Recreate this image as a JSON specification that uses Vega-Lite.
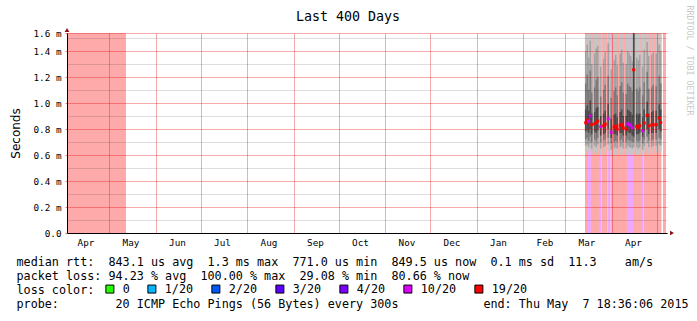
{
  "$schema": "https://vega.github.io/schema/vega-lite/v6.json",
  "width": 600,
  "height": 200,
  "autosize": {"type": "none"},
  "padding": {"left": 67, "top": 33, "right": 30, "bottom": 88},
  "background": "white",
  "title": {"text": "Last 400 Days", "font": "DejaVu Sans Mono", "fontSize": 13.3, "fontWeight": "normal", "color": "#000", "anchor": "middle", "frame": "group", "dx": -19, "dy": 18, "offset": 0},
  "config": {"view": {"stroke": null}, "axis": {"domainWidth": 1}},
  "datasets": {
    "bg": [
      {"s": "2014-04-02T16:36:00Z", "e": "2014-05-12T00:00:00Z", "bg": "19/20"},
      {"s": "2015-03-14", "e": "2015-03-16", "bg": "19/20"},
      {"s": "2015-03-16", "e": "2015-03-18", "bg": "10/20"},
      {"s": "2015-03-18", "e": "2015-03-24", "bg": "19/20"},
      {"s": "2015-03-24", "e": "2015-03-25", "bg": "10/20"},
      {"s": "2015-03-25", "e": "2015-03-29", "bg": "19/20"},
      {"s": "2015-03-29", "e": "2015-03-30", "bg": "10/20"},
      {"s": "2015-03-30", "e": "2015-03-31", "bg": "19/20"},
      {"s": "2015-03-31", "e": "2015-04-01", "bg": "10/20"},
      {"s": "2015-04-01", "e": "2015-04-11", "bg": "19/20"},
      {"s": "2015-04-11", "e": "2015-04-15", "bg": "10/20"},
      {"s": "2015-04-15", "e": "2015-04-21", "bg": "19/20"},
      {"s": "2015-04-21", "e": "2015-04-22", "bg": "10/20"},
      {"s": "2015-04-22", "e": "2015-05-04", "bg": "19/20"},
      {"s": "2015-05-05", "e": "2015-05-07", "bg": "19/20"}
    ],
    "smoke": [
      {"d": "2015-03-14", "d2": "2015-03-15", "lo": 0.62, "a": 0.67, "b": 0.72, "c": 0.78, "e": 0.95, "f": 1.15, "g": 1.40, "hi": 1.6, "m": 0.848, "mc": "19/20"},
      {"d": "2015-03-15", "d2": "2015-03-16", "lo": 0.63, "a": 0.68, "b": 0.73, "c": 0.79, "e": 0.98, "f": 1.22, "g": 1.45, "hi": 1.6, "m": 0.870, "mc": "19/20"},
      {"d": "2015-03-16", "d2": "2015-03-17", "lo": 0.61, "a": 0.66, "b": 0.71, "c": 0.77, "e": 0.94, "f": 1.10, "g": 1.35, "hi": 1.6, "m": 0.860, "mc": "10/20"},
      {"d": "2015-03-17", "d2": "2015-03-18", "lo": 0.64, "a": 0.69, "b": 0.74, "c": 0.80, "e": 1.02, "f": 1.25, "g": 1.48, "hi": 1.6, "m": 0.900, "mc": "10/20"},
      {"d": "2015-03-18", "d2": "2015-03-19", "lo": 0.60, "a": 0.65, "b": 0.70, "c": 0.76, "e": 0.92, "f": 1.08, "g": 1.30, "hi": 1.6, "m": 0.833, "mc": "19/20"},
      {"d": "2015-03-20", "d2": "2015-03-21", "lo": 0.62, "a": 0.67, "b": 0.72, "c": 0.78, "e": 0.93, "f": 1.12, "g": 1.38, "hi": 1.6, "m": 0.840, "mc": "19/20"},
      {"d": "2015-03-21", "d2": "2015-03-22", "lo": 0.61, "a": 0.66, "b": 0.71, "c": 0.77, "e": 0.96, "f": 1.18, "g": 1.42, "hi": 1.6, "m": 0.848, "mc": "19/20"},
      {"d": "2015-03-22", "d2": "2015-03-23", "lo": 0.63, "a": 0.68, "b": 0.73, "c": 0.79, "e": 0.97, "f": 1.20, "g": 1.44, "hi": 1.6, "m": 0.862, "mc": "19/20"},
      {"d": "2015-03-24", "d2": "2015-03-25", "lo": 0.60, "a": 0.65, "b": 0.70, "c": 0.75, "e": 0.90, "f": 1.05, "g": 1.28, "hi": 1.6, "m": 0.818, "mc": "10/20"},
      {"d": "2015-03-26", "d2": "2015-03-27", "lo": 0.61, "a": 0.66, "b": 0.71, "c": 0.76, "e": 0.92, "f": 1.10, "g": 1.34, "hi": 1.6, "m": 0.825, "mc": "19/20"},
      {"d": "2015-03-27", "d2": "2015-03-28", "lo": 0.62, "a": 0.67, "b": 0.72, "c": 0.77, "e": 0.94, "f": 1.14, "g": 1.39, "hi": 1.6, "m": 0.838, "mc": "19/20"},
      {"d": "2015-03-29", "d2": "2015-03-30", "lo": 0.63, "a": 0.68, "b": 0.73, "c": 0.80, "e": 0.99, "f": 1.21, "g": 1.46, "hi": 1.6, "m": 0.879, "mc": "10/20"},
      {"d": "2015-03-31", "d2": "2015-04-01", "lo": 0.59, "a": 0.64, "b": 0.69, "c": 0.73, "e": 0.88, "f": 1.04, "g": 1.26, "hi": 1.6, "m": 0.775, "mc": "10/20"},
      {"d": "2015-04-02", "d2": "2015-04-03", "lo": 0.60, "a": 0.65, "b": 0.70, "c": 0.76, "e": 0.91, "f": 1.09, "g": 1.33, "hi": 1.6, "m": 0.815, "mc": "19/20"},
      {"d": "2015-04-03", "d2": "2015-04-04", "lo": 0.61, "a": 0.66, "b": 0.71, "c": 0.76, "e": 0.92, "f": 1.12, "g": 1.37, "hi": 1.6, "m": 0.822, "mc": "19/20"},
      {"d": "2015-04-04", "d2": "2015-04-05", "lo": 0.60, "a": 0.65, "b": 0.70, "c": 0.75, "e": 0.89, "f": 1.06, "g": 1.29, "hi": 1.6, "m": 0.800, "mc": "19/20"},
      {"d": "2015-04-06", "d2": "2015-04-07", "lo": 0.61, "a": 0.66, "b": 0.71, "c": 0.77, "e": 0.93, "f": 1.13, "g": 1.38, "hi": 1.6, "m": 0.828, "mc": "19/20"},
      {"d": "2015-04-07", "d2": "2015-04-08", "lo": 0.62, "a": 0.67, "b": 0.72, "c": 0.77, "e": 0.95, "f": 1.16, "g": 1.41, "hi": 1.6, "m": 0.835, "mc": "19/20"},
      {"d": "2015-04-08", "d2": "2015-04-09", "lo": 0.60, "a": 0.65, "b": 0.70, "c": 0.75, "e": 0.90, "f": 1.08, "g": 1.31, "hi": 1.6, "m": 0.810, "mc": "19/20"},
      {"d": "2015-04-10", "d2": "2015-04-11", "lo": 0.60, "a": 0.65, "b": 0.70, "c": 0.75, "e": 0.90, "f": 1.07, "g": 1.30, "hi": 1.6, "m": 0.800, "mc": "19/20"},
      {"d": "2015-04-11", "d2": "2015-04-12", "lo": 0.62, "a": 0.67, "b": 0.72, "c": 0.78, "e": 0.95, "f": 1.15, "g": 1.40, "hi": 1.6, "m": 0.840, "mc": "10/20"},
      {"d": "2015-04-12", "d2": "2015-04-13", "lo": 0.61, "a": 0.66, "b": 0.71, "c": 0.77, "e": 0.94, "f": 1.13, "g": 1.38, "hi": 1.6, "m": 0.833, "mc": "10/20"},
      {"d": "2015-04-13", "d2": "2015-04-14", "lo": 0.61, "a": 0.66, "b": 0.71, "c": 0.77, "e": 0.93, "f": 1.12, "g": 1.36, "hi": 1.6, "m": 0.828, "mc": "10/20"},
      {"d": "2015-04-14", "d2": "2015-04-15", "lo": 0.60, "a": 0.65, "b": 0.70, "c": 0.75, "e": 0.91, "f": 1.09, "g": 1.32, "hi": 1.6, "m": 0.810, "mc": "10/20"},
      {"d": "2015-04-15", "d2": "2015-04-16", "lo": 0.62, "a": 0.66, "b": 0.70, "c": 0.74, "e": 1.6, "f": 1.6, "g": 1.6, "hi": 1.6, "m": 1.256, "mc": "19/20"},
      {"d": "2015-04-17", "d2": "2015-04-18", "lo": 0.61, "a": 0.66, "b": 0.71, "c": 0.76, "e": 0.92, "f": 1.11, "g": 1.35, "hi": 1.6, "m": 0.820, "mc": "19/20"},
      {"d": "2015-04-18", "d2": "2015-04-19", "lo": 0.60, "a": 0.65, "b": 0.70, "c": 0.76, "e": 0.91, "f": 1.09, "g": 1.33, "hi": 1.6, "m": 0.812, "mc": "19/20"},
      {"d": "2015-04-19", "d2": "2015-04-20", "lo": 0.61, "a": 0.66, "b": 0.71, "c": 0.77, "e": 0.92, "f": 1.12, "g": 1.37, "hi": 1.6, "m": 0.825, "mc": "19/20"},
      {"d": "2015-04-21", "d2": "2015-04-22", "lo": 0.59, "a": 0.64, "b": 0.69, "c": 0.74, "e": 0.89, "f": 1.06, "g": 1.28, "hi": 1.6, "m": 0.787, "mc": "10/20"},
      {"d": "2015-04-22", "d2": "2015-04-23", "lo": 0.62, "a": 0.67, "b": 0.72, "c": 0.78, "e": 0.95, "f": 1.16, "g": 1.41, "hi": 1.6, "m": 0.846, "mc": "19/20"},
      {"d": "2015-04-24", "d2": "2015-04-25", "lo": 0.64, "a": 0.69, "b": 0.74, "c": 0.80, "e": 1.01, "f": 1.24, "g": 1.47, "hi": 1.6, "m": 0.905, "mc": "19/20"},
      {"d": "2015-04-25", "d2": "2015-04-26", "lo": 0.61, "a": 0.66, "b": 0.71, "c": 0.76, "e": 0.92, "f": 1.11, "g": 1.36, "hi": 1.6, "m": 0.823, "mc": "19/20"},
      {"d": "2015-04-27", "d2": "2015-04-28", "lo": 0.61, "a": 0.66, "b": 0.71, "c": 0.77, "e": 0.93, "f": 1.12, "g": 1.37, "hi": 1.6, "m": 0.830, "mc": "19/20"},
      {"d": "2015-04-28", "d2": "2015-04-29", "lo": 0.62, "a": 0.67, "b": 0.72, "c": 0.77, "e": 0.94, "f": 1.14, "g": 1.39, "hi": 1.6, "m": 0.833, "mc": "19/20"},
      {"d": "2015-04-30", "d2": "2015-05-01", "lo": 0.62, "a": 0.67, "b": 0.72, "c": 0.77, "e": 0.94, "f": 1.13, "g": 1.38, "hi": 1.6, "m": 0.833, "mc": "19/20"},
      {"d": "2015-05-02", "d2": "2015-05-03", "lo": 0.63, "a": 0.68, "b": 0.73, "c": 0.80, "e": 0.99, "f": 1.21, "g": 1.45, "hi": 1.6, "m": 0.885, "mc": "19/20"},
      {"d": "2015-05-03", "d2": "2015-05-04", "lo": 0.62, "a": 0.67, "b": 0.72, "c": 0.78, "e": 0.95, "f": 1.15, "g": 1.40, "hi": 1.6, "m": 0.850, "mc": "19/20"}
    ]
  },
  "resolve": {"axis": {"x": "independent", "y": "independent"}},
  "layer": [
    {
      "data": {"name": "bg"},
      "mark": {"type": "rect"},
      "encoding": {
        "x": {"field": "s", "type": "temporal",
          "scale": {"type": "utc", "domain": [{"year": 2014, "month": 4, "date": 2, "hours": 16, "minutes": 36, "utc": true}, {"year": 2015, "month": 5, "date": 7, "hours": 16, "minutes": 36, "utc": true}]},
          "axis": {"orient": "top", "values": [
            {"year": 2014, "month": 5, "date": 1, "utc": true}, {"year": 2014, "month": 6, "date": 1, "utc": true},
            {"year": 2014, "month": 7, "date": 1, "utc": true}, {"year": 2014, "month": 8, "date": 1, "utc": true},
            {"year": 2014, "month": 9, "date": 1, "utc": true}, {"year": 2014, "month": 10, "date": 1, "utc": true},
            {"year": 2014, "month": 11, "date": 1, "utc": true}, {"year": 2014, "month": 12, "date": 1, "utc": true},
            {"year": 2015, "month": 1, "date": 1, "utc": true}, {"year": 2015, "month": 2, "date": 1, "utc": true},
            {"year": 2015, "month": 3, "date": 1, "utc": true}, {"year": 2015, "month": 4, "date": 1, "utc": true},
            {"year": 2015, "month": 5, "date": 1, "utc": true}],
            "grid": true, "gridColor": "#e00000", "gridOpacity": 0.33, "labels": false, "ticks": false, "domain": false, "title": null, "zindex": 1}},
        "x2": {"field": "e"},
        "y": {"datum": 0, "type": "quantitative",
          "scale": {"domain": [0, 1.5385], "nice": false, "clamp": true},
          "axis": {"orient": "left", "values": [0, 0.2, 0.4, 0.6, 0.8, 1.0, 1.2, 1.4, 1.5385],
            "labelExpr": "datum.value == 0 ? '0.0' : (datum.value > 1.5 ? '1.6 m' : format(datum.value, '.1f') + ' m')",
            "grid": true, "gridColor": "#e00000", "gridOpacity": 0.33,
            "labelFont": "DejaVu Sans Mono", "labelFontSize": 9.3, "labelColor": "#000", "labelPadding": 4,
            "tickSize": 2, "tickColor": "#e08080", "domainColor": "#000",
            "title": "Seconds", "titleFont": "DejaVu Sans", "titleFontSize": 12, "titleFontWeight": "normal", "titleColor": "#000",
            "titleX": -52, "titleY": 100, "titleAngle": 270, "titleAlign": "center", "titleBaseline": "middle", "zindex": 1}},
        "y2": {"datum": 1.5385},
        "fill": {"field": "bg", "type": "nominal", "scale": {"domain": ["19/20", "10/20"], "range": ["#ffaaaa", "#eea8ff"]}, "legend": null}
      }
    },
    {
      "data": {"name": "smoke"},
      "mark": {"type": "rect", "color": "#c6c6c6"},
      "encoding": {
        "x": {"field": "d", "type": "temporal",
          "scale": {"type": "utc", "domain": [{"year": 2014, "month": 4, "date": 2, "hours": 16, "minutes": 36, "utc": true}, {"year": 2015, "month": 5, "date": 7, "hours": 16, "minutes": 36, "utc": true}]},
          "axis": {"orient": "bottom", "values": [
            {"year": 2014, "month": 4, "date": 15, "utc": true}, {"year": 2014, "month": 5, "date": 15, "utc": true},
            {"year": 2014, "month": 6, "date": 15, "utc": true}, {"year": 2014, "month": 7, "date": 15, "utc": true},
            {"year": 2014, "month": 8, "date": 15, "utc": true}, {"year": 2014, "month": 9, "date": 15, "utc": true},
            {"year": 2014, "month": 10, "date": 15, "utc": true}, {"year": 2014, "month": 11, "date": 15, "utc": true},
            {"year": 2014, "month": 12, "date": 15, "utc": true}, {"year": 2015, "month": 1, "date": 15, "utc": true},
            {"year": 2015, "month": 2, "date": 15, "utc": true}, {"year": 2015, "month": 3, "date": 15, "utc": true},
            {"year": 2015, "month": 4, "date": 15, "utc": true}],
            "format": "%b", "grid": false, "ticks": false, "labelFlush": false,
            "labelFont": "DejaVu Sans Mono", "labelFontSize": 9.3, "labelColor": "#000", "labelPadding": 5, "domainColor": "#000",
            "title": [
              "median rtt:\u00a0\u00a0843.1 us avg\u00a0\u00a01.3 ms max\u00a0\u00a0771.0 us min\u00a0\u00a0849.5 us now\u00a0\u00a00.1 ms sd\u00a0\u00a011.3\u00a0\u00a0\u00a0\u00a0am/s",
              "packet loss: 94.23 % avg\u00a0\u00a0100.00 % max\u00a0\u00a029.08 % min\u00a0\u00a080.66 % now",
              "loss color:",
              "probe:\u00a0\u00a0\u00a0\u00a0\u00a0\u00a0\u00a0\u00a020 ICMP Echo Pings (56 Bytes) every 300s\u00a0\u00a0\u00a0\u00a0\u00a0\u00a0\u00a0\u00a0\u00a0\u00a0\u00a0\u00a0end: Thu May\u00a0\u00a07 18:36:06 2015"
            ],
            "titleFont": "DejaVu Sans Mono", "titleFontSize": 11.75, "titleFontWeight": "normal", "titleColor": "#000",
            "titleAlign": "left", "titleAnchor": "start", "titleX": -51, "titleY": 32, "titleBaseline": "alphabetic", "titleLineHeight": 14, "zindex": 1}},
        "x2": {"field": "d2"},
        "y": {"field": "lo", "type": "quantitative",
          "scale": {"domain": [0, 1.5385], "nice": false, "clamp": true},
          "axis": {"orient": "right", "values": [0.1, 0.3, 0.5, 0.7, 0.9, 1.1, 1.3, 1.5], "grid": true, "gridColor": "#000", "gridOpacity": 0.13,
            "labels": false, "ticks": false, "domain": false,
            "title": "RRDTOOL / TOBI OETIKER", "titleFont": "DejaVu Sans Mono", "titleFontSize": 8.3, "titleFontWeight": "normal", "titleColor": "#c8c8c8",
            "titleAngle": 90, "titleAlign": "left", "titleBaseline": "middle", "titleX": 21, "titleY": -28, "zindex": 1}},
        "y2": {"field": "hi"}
      }
    },
    {
      "data": {"name": "smoke"},
      "mark": {"type": "rect", "color": "#a2a2a2"},
      "encoding": {
        "x": {"field": "d", "type": "temporal", "axis": null},
        "x2": {"field": "d2"},
        "y": {"field": "a", "type": "quantitative", "axis": null},
        "y2": {"field": "g"}
      }
    },
    {
      "data": {"name": "smoke"},
      "mark": {"type": "rect", "color": "#7a7a7a"},
      "encoding": {
        "x": {"field": "d", "type": "temporal", "axis": null},
        "x2": {"field": "d2"},
        "y": {"field": "b", "type": "quantitative", "axis": null},
        "y2": {"field": "f"}
      }
    },
    {
      "data": {"name": "smoke"},
      "mark": {"type": "rect", "color": "#4a4a4a"},
      "encoding": {
        "x": {"field": "d", "type": "temporal", "axis": null},
        "x2": {"field": "d2"},
        "y": {"field": "c", "type": "quantitative", "axis": null},
        "y2": {"field": "e"}
      }
    },
    {
      "data": {"name": "smoke"},
      "mark": {"type": "point", "shape": "square", "filled": true, "size": 9, "opacity": 1, "xOffset": 0.75},
      "encoding": {
        "x": {"field": "d", "type": "temporal", "axis": null},
        "y": {"field": "m", "type": "quantitative", "axis": null},
        "color": {"field": "mc", "type": "nominal",
          "scale": {"domain": ["0", "1/20", "2/20", "3/20", "4/20", "10/20", "19/20"], "range": ["#26ff00", "#00b8ff", "#0059ff", "#5e00ff", "#7e00ff", "#dd00ff", "#ff0000"]},
          "legend": {"orient": "none", "legendX": 37, "legendY": 250, "direction": "horizontal", "title": null, "padding": 0,
            "symbolType": "square", "symbolSize": 64, "symbolStrokeColor": "#000", "symbolStrokeWidth": 1, "symbolOpacity": 1,
            "labelFont": "DejaVu Sans Mono", "labelFontSize": 11.75, "labelColor": "#000", "labelOffset": 7, "columnPadding": 15}}
      }
    },
    {
      "data": {"values": [{"k": 1}]},
      "mark": {"type": "point", "shape": "triangle-up", "filled": true, "color": "#8b1010", "size": 22, "yOffset": -3, "opacity": 1},
      "encoding": {
        "x": {"datum": {"year": 2014, "month": 4, "date": 2, "hours": 16, "minutes": 36, "utc": true}, "type": "temporal", "axis": null},
        "y": {"datum": 1.5385, "type": "quantitative", "axis": null}
      }
    },
    {
      "data": {"values": [{"k": 1}]},
      "mark": {"type": "point", "shape": "triangle-right", "filled": true, "color": "#8b1010", "size": 22, "xOffset": 5, "opacity": 1},
      "encoding": {
        "x": {"datum": {"year": 2015, "month": 5, "date": 7, "hours": 16, "minutes": 36, "utc": true}, "type": "temporal", "axis": null},
        "y": {"datum": 0, "type": "quantitative", "axis": null}
      }
    }
  ]
}
